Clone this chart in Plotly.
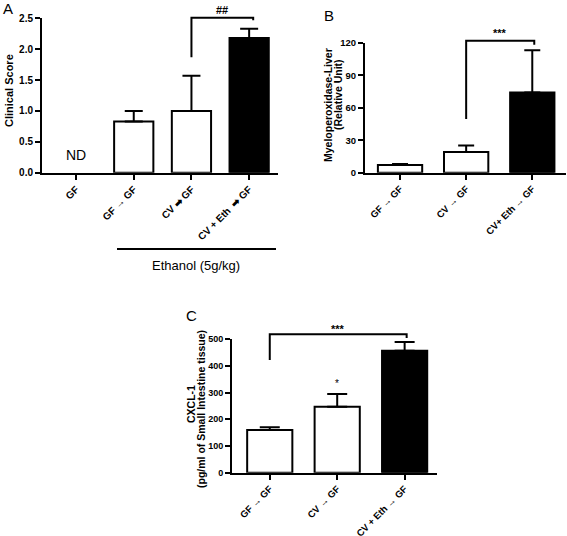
import plotly.graph_objects as go

W, H = 567, 536

# panel A: clinical score
a_labels = ["GF", "GF → GF", "CV ➡ GF", "CV + Eth  ➡ GF"]
a_mean = [None, 0.83, 1.0, 2.18]
a_err = [None, 0.17, 0.57, 0.15]
a_fill = ["white", "white", "white", "black"]

# panel B: myeloperoxidase liver
b_labels = ["GF → GF", "CV → GF", "CV+ Eth → GF"]
b_mean = [7, 19, 74]
b_err = [1, 6, 39]
b_fill = ["white", "white", "black"]

# panel C: CXCL-1
c_labels = ["GF → GF", "CV → GF", "CV + Eth → GF"]
c_mean = [160, 247, 457]
c_err = [10, 48, 33]
c_fill = ["white", "white", "black"]

FONT = "Liberation Sans"

A_X = [-0.59, 3.5]
B_X = [-0.53, 2.51]
C_X = [-0.56, 2.48]


def px(p):
    return p / W


def py(p):
    return 1 - p / H


def bars(x, y, err, fill, xa, ya, w, cap):
    return go.Bar(
        x=x, y=y, marker=dict(color=fill, line=dict(color="black", width=2)),
        width=w, xaxis=xa, yaxis=ya, showlegend=False,
        error_y=dict(type="data", symmetric=False, array=err,
                     arrayminus=[0 if e is not None else None for e in err],
                     color="black", thickness=2, width=cap),
    )


def note(text, x, y, xref="paper", yref="paper", size=11, bold=True, angle=0):
    fig.add_annotation(x=x, y=y, xref=xref, yref=yref, text=text, showarrow=False,
                       xanchor="center", yanchor="middle", textangle=angle,
                       font=dict(family=FONT, size=size, color="black",
                                 weight="bold" if bold else "normal"))


fig = go.Figure()
fig.add_trace(bars(a_labels, a_mean, a_err, a_fill, "x", "y", 0.68, 9))
fig.add_trace(bars(b_labels, b_mean, b_err, b_fill, "x2", "y2", 0.67, 8))
fig.add_trace(bars(c_labels, c_mean, c_err, c_fill, "x3", "y3", 0.67, 10))


def axis_style(size):
    return dict(showline=True, linecolor="black", linewidth=2, ticks="outside",
                ticklen=5, tickwidth=2, tickcolor="black", showgrid=False,
                zeroline=False, automargin=False,
                tickfont=dict(family=FONT, size=size, color="black", weight="bold"))


fig.update_layout(
    template="none",
    width=W, height=H, margin=dict(l=0, r=0, t=0, b=0, pad=0),
    plot_bgcolor="white", paper_bgcolor="white",
    xaxis=dict(domain=[px(42), px(278)], anchor="y", tickangle=-45,
               range=A_X, **axis_style(10)),
    yaxis=dict(domain=[py(172.7), py(18.3)], anchor="x", range=[0, 2.5],
               dtick=0.5, tickformat=".1f", **axis_style(10)),
    xaxis2=dict(domain=[px(365), px(566)], anchor="y2", tickangle=-45,
                range=B_X, **axis_style(9.5)),
    yaxis2=dict(domain=[py(172.7), py(42.7)], anchor="x2", range=[0, 120],
                dtick=30, **axis_style(9.5)),
    xaxis3=dict(domain=[px(232), px(437)], anchor="y3", tickangle=-45,
                range=C_X, **axis_style(9.5)),
    yaxis3=dict(domain=[py(472.7), py(339.3)], anchor="x3", range=[0, 500],
                dtick=100, **axis_style(9)),
)


def bracket(xa, ya, xr, ymax, i, j, top, left_low, right_low, label, label_y):
    def fx(c):
        return (c - xr[0]) / (xr[1] - xr[0])

    def fy(v):
        return v / ymax

    path = (f"M {fx(i)} {fy(left_low)} L {fx(i)} {fy(top)} "
            f"L {fx(j)} {fy(top)} L {fx(j)} {fy(right_low)}")
    fig.add_shape(type="path", path=path, xref=f"{xa} domain", yref=f"{ya} domain",
                  line=dict(color="black", width=2))
    note(label, fx((i + j) / 2), fy(label_y), f"{xa} domain", f"{ya} domain")


bracket("x", "y", A_X, 2.5, 2, 3.07, 2.51, 1.87, 2.47, "##", 2.63)
bracket("x2", "y2", B_X, 120, 1, 2.03, 121.8, 49.6, 118, "***", 129)
bracket("x3", "y3", C_X, 500, 0, 2.03, 519, 422, 505, "***", 540)

# single star over CV -> GF in C
note("*", (1 - C_X[0]) / (C_X[1] - C_X[0]), 335 / 500, "x3 domain", "y3 domain",
     size=10, bold=False)

# ND over GF in A
note("ND", (0 - A_X[0]) / (A_X[1] - A_X[0]), 0.28 / 2.5, "x domain", "y domain",
     size=14, bold=False)

# ethanol group line
fig.add_shape(type="line", xref="paper", yref="paper", x0=px(117), x1=px(276),
              y0=py(249), y1=py(249), line=dict(color="black", width=2))
note("Ethanol (5g/kg)", px(196), py(265), size=13, bold=False)

# y titles
note("Clinical Score", px(9), py(91), angle=-90)
note("Myeloperoxidase-Liver", px(328), py(105), size=10.5, angle=-90)
note("(Relative Unit)", px(338), py(95), size=10.5, angle=-90)
note("CXCL-1", px(191), py(404), size=10.5, angle=-90)
note("(pg/ml of Small Intestine tissue)", px(201), py(409), size=10.5, angle=-90)

# panel letters
for letter, xp, yp in [("A", 8, 9), ("B", 329, 15), ("C", 191, 315)]:
    note(letter, px(xp), py(yp), size=15, bold=False)

fig.write_html("out.html", config={"displayModeBar": False},
               post_script="document.body.style.margin='0';")
